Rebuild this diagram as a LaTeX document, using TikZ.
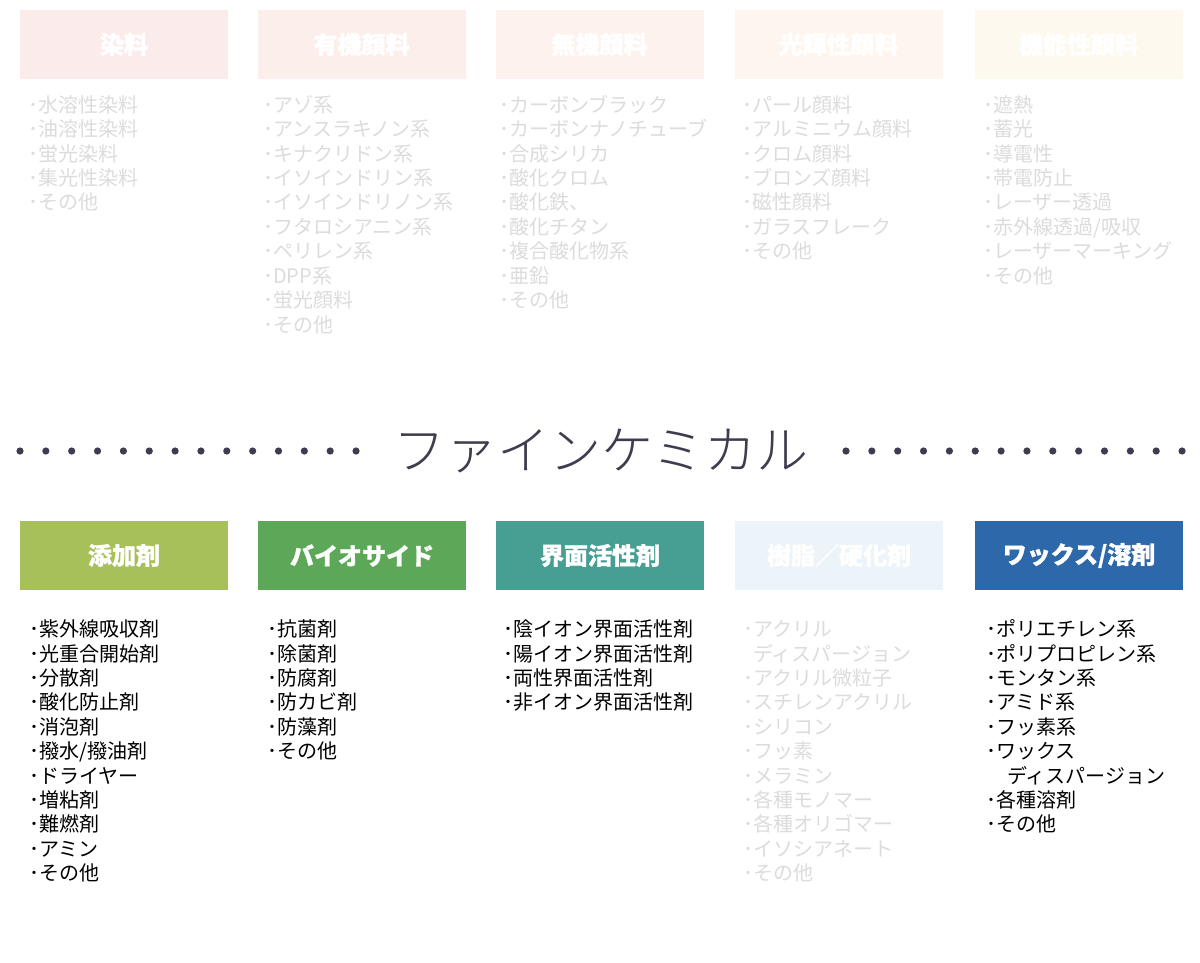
\documentclass[tikz,border=0pt]{standalone}
\usepackage{fontspec}
\setmainfont{Noto Sans CJK JP}
\newfontfamily\ttlfont{Noto Sans CJK JP Light}
\newfontfamily\hdrfont[FakeBold=1.2]{Noto Sans CJK JP Black}
\definecolor{tA}{HTML}{FBEBEB}
\definecolor{tB}{HTML}{FCEEEB}
\definecolor{tC}{HTML}{FDF2EE}
\definecolor{tD}{HTML}{FEF6EE}
\definecolor{tE}{HTML}{FEF9EE}
\definecolor{bA}{HTML}{A8C05A}
\definecolor{bB}{HTML}{5DA858}
\definecolor{bC}{HTML}{479E92}
\definecolor{bD}{HTML}{ECF3F9}
\definecolor{bE}{HTML}{2D68AA}
\definecolor{faint}{HTML}{DCDCDC}
\definecolor{ttl}{HTML}{3D3D4D}
\tikzset{
  hbox/.style={draw=none, minimum width=208pt, minimum height=69pt, inner sep=0pt,
    text=white, font=\fontsize{24}{28}\selectfont\hdrfont},
  item/.style={anchor=west, inner sep=0pt, text height=17.6pt, text depth=2.4pt,
    font=\fontsize{20}{24}\selectfont},
  dotc/.style={fill=ttl, draw=none}
}
\begin{document}
\begin{tikzpicture}[x=1pt,y=-1pt]
\useasboundingbox (0,0) rectangle (1200,962);
\fill[white] (0,0) rectangle (1200,962);
% top headers
\node[hbox, fill=tA] (h1) at (124,44.5) {染料};
\node[hbox, fill=tB] (h2) at (361.5,44.5) {有機顔料};
\node[hbox, fill=tC] (h3) at (599.5,44.5) {無機顔料};
\node[hbox, fill=tD] (h4) at (838.5,44.5) {光輝性顔料};
\node[hbox, fill=tE] (h5) at (1079,44.5) {機能性顔料};
% top lists
\foreach \t [count=\i] in {･水溶性染料,･油溶性染料,･蛍光染料,･集光性染料,･その他}
  \node[item, text=faint] (ta\i) at (28,{104.5+(\i-1)*24.45}) {\t};
\foreach \t [count=\i] in {･アゾ系,･アンスラキノン系,･キナクリドン系,･イソインドリン系,･イソインドリノン系,･フタロシアニン系,･ペリレン系,･DPP系,･蛍光顔料,･その他}
  \node[item, text=faint] (tb\i) at (263,{104.5+(\i-1)*24.45}) {\t};
\foreach \t [count=\i] in {･カーボンブラック,･カーボンナノチューブ,･合成シリカ,･酸化クロム,･酸化鉄、,･酸化チタン,･複合酸化物系,･亜鉛,･その他}
  \node[item, text=faint] (tc\i) at (499,{104.5+(\i-1)*24.45}) {\t};
\foreach \t [count=\i] in {･パール顔料,･アルミニウム顔料,･クロム顔料,･ブロンズ顔料,･磁性顔料,･ガラスフレーク,･その他}
  \node[item, text=faint] (td\i) at (742,{104.5+(\i-1)*24.45}) {\t};
\foreach \t [count=\i] in {･遮熱,･蓄光,･導電性,･帯電防止,･レーザー透過,･赤外線透過/吸収,･レーザーマーキング,･その他}
  \node[item, text=faint] (te\i) at (983,{104.5+(\i-1)*24.45}) {\t};
% title
\node[inner sep=0pt, text=ttl, font=\fontsize{52}{60}\selectfont\ttlfont] (title) at (601,451) {ファインケミカル};
\foreach \k in {0,...,13} {
  \fill[dotc] ({20+\k*25.85},451) circle (3.6);
  \fill[dotc] ({846+\k*25.85},451) circle (3.6);
}
% bottom headers
\node[hbox, fill=bA] (g1) at (124,555.5) {添加剤};
\node[hbox, fill=bB] (g2) at (362,555.5) {バイオサイド};
\node[hbox, fill=bC] (g3) at (600,555.5) {界面活性剤};
\node[hbox, fill=bD] (g4) at (839,555.5) {樹脂／硬化剤};
\node[hbox, fill=bE] (g5) at (1079,555.5) {ワックス/溶剤};
% bottom lists
\foreach \t [count=\i] in {･紫外線吸収剤,･光重合開始剤,･分散剤,･酸化防止剤,･消泡剤,･撥水/撥油剤,･ドライヤー,･増粘剤,･難燃剤,･アミン,･その他}
  \node[item] (ba\i) at (29,{629+(\i-1)*24.4}) {\t};
\foreach \t [count=\i] in {･抗菌剤,･除菌剤,･防腐剤,･防カビ剤,･防藻剤,･その他}
  \node[item] (bb\i) at (267,{629+(\i-1)*24.4}) {\t};
\foreach \t [count=\i] in {･陰イオン界面活性剤,･陽イオン界面活性剤,･両性界面活性剤,･非イオン界面活性剤}
  \node[item] (bc\i) at (503,{629+(\i-1)*24.4}) {\t};
\foreach \t [count=\i] in {･アクリル,\hspace*{10pt}ディスパージョン,･アクリル微粒子,･スチレンアクリル,･シリコン,･フッ素,･メラミン,･各種モノマー,･各種オリゴマー,･イソシアネート,･その他}
  \node[item, text=faint] (bd\i) at (743,{629+(\i-1)*24.4}) {\t};
\foreach \t [count=\i] in {･ポリエチレン系,･ポリプロピレン系,･モンタン系,･アミド系,･フッ素系,･ワックス,\hspace*{21pt}ディスパージョン,･各種溶剤,･その他}
  \node[item] (be\i) at (986,{629+(\i-1)*24.4}) {\t};
\end{tikzpicture}
\end{document}
